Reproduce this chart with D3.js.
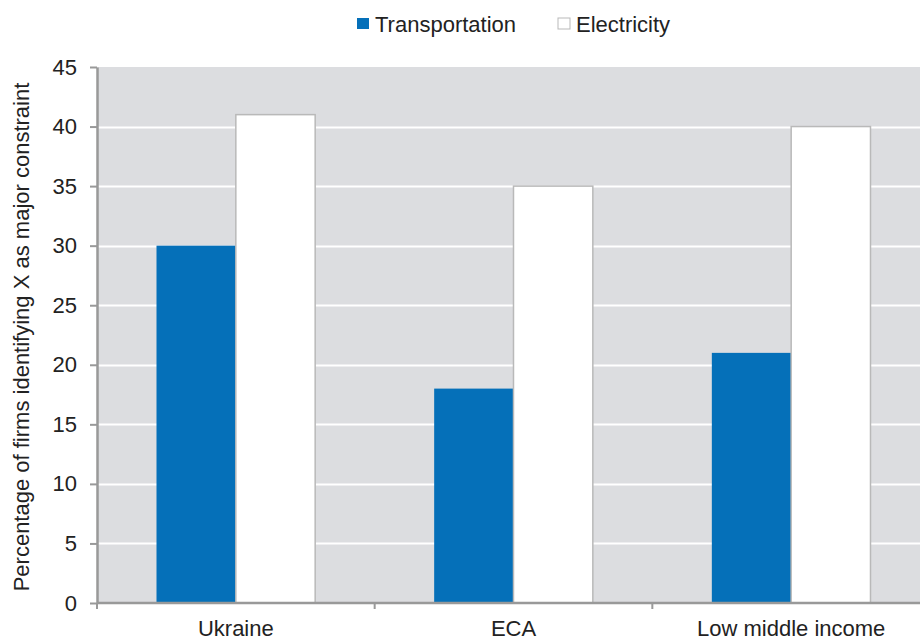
<!DOCTYPE html>
<html>
<head>
<meta charset="utf-8">
<script src="https://cdn.jsdelivr.net/npm/d3@7"></script>
<style>
  html, body { margin: 0; padding: 0; background: #fff; }
  svg { display: block; font-family: "Liberation Sans", Arial, sans-serif; }
</style>
</head>
<body>
<svg id="chart" width="920" height="640"></svg>
<script>
// Share of firms naming each infrastructure area as a major constraint
const categories = ["Ukraine", "ECA", "Low middle income"];
const seriesNames = ["Transportation", "Electricity"];
const transportation = [30, 18, 21];
const electricity = [41, 35, 40];
const yTicks = [0, 5, 10, 15, 20, 25, 30, 35, 40, 45];
const yTitle = "Percentage of firms identifying X as major constraint";

const colors = { Transportation: "#0570b9", Electricity: "#ffffff" };

const svg = d3.select("#chart");
const margin = { left: 97, top: 67, right: -10, bottom: 37 };
const W = 920, H = 640;
const x0 = margin.left, x1 = W - margin.right;
const yTop = margin.top, yBot = H - margin.bottom;

const x = d3.scaleBand().domain(categories).range([x0, x1]).paddingInner(0).paddingOuter(0);
const xs = d3.scaleBand().domain(seriesNames).range([0, x.bandwidth()]).paddingInner(0).paddingOuter(0.75);
const y = d3.scaleLinear().domain([0, 45]).range([yBot, yTop]);

// plot background
svg.append("rect").attr("x", x0).attr("y", yTop).attr("width", x1 - x0).attr("height", yBot - yTop).attr("fill", "#dcdde0");

// gridlines
svg.append("g").selectAll("line").data(yTicks.filter(d => d > 0 && d < 45)).join("line")
  .attr("x1", x0).attr("x2", x1)
  .attr("y1", d => Math.round(y(d)) + 0.5).attr("y2", d => Math.round(y(d)) + 0.5)
  .attr("stroke", "#ffffff").attr("stroke-width", 2);

// bars
const rows = categories.map((c, i) => ({ cat: c, values: [
  { key: "Transportation", v: transportation[i] },
  { key: "Electricity", v: electricity[i] }
]}));

const g = svg.append("g").selectAll("g").data(rows).join("g")
  .attr("transform", d => `translate(${x(d.cat)},0)`);

g.selectAll("rect").data(d => d.values).join("rect")
  .attr("x", d => xs(d.key))
  .attr("y", d => y(d.v))
  .attr("width", xs.bandwidth())
  .attr("height", d => y(0) - y(d.v))
  .attr("fill", d => colors[d.key])
  .attr("stroke", d => d.key === "Electricity" ? "#b9b9b9" : "none")
  .attr("stroke-width", 1.5);

// y axis
const yAxis = d3.axisLeft(y).tickValues(yTicks).tickSize(7).tickSizeOuter(0).tickPadding(13);
const ya = svg.append("g").attr("transform", `translate(${x0},0)`).call(yAxis);
ya.select(".domain").attr("stroke", "#999").attr("stroke-width", 2.5);
ya.selectAll(".tick line").attr("stroke", "#999").attr("stroke-width", 2);
ya.selectAll(".tick text").attr("font-size", 22).attr("fill", "#222").attr("font-family", "Liberation Sans, Arial, sans-serif");

// x axis
const xa = svg.append("g").attr("transform", `translate(0,${yBot})`);
xa.append("line").attr("x1", x0).attr("x2", x1).attr("y1", 0).attr("y2", 0).attr("stroke", "#999").attr("stroke-width", 2.5);
xa.selectAll("line.tk").data(categories.map(c => x(c)).concat([x1])).join("line").attr("class", "tk")
  .attr("x1", d => d).attr("x2", d => d).attr("y1", 0).attr("y2", 6)
  .attr("stroke", "#999").attr("stroke-width", 2);
xa.selectAll("text").data(categories).join("text")
  .attr("x", d => x(d) + x.bandwidth() / 2).attr("y", 33)
  .attr("text-anchor", "middle").attr("font-size", 22).attr("fill", "#222")
  .text(d => d);

// y axis title
svg.append("text")
  .attr("transform", `translate(29,337) rotate(-90)`)
  .attr("text-anchor", "middle").attr("font-size", 22).attr("fill", "#222")
  .text(yTitle);

// legend
const legendX = [357, 558];
const lg = svg.append("g").selectAll("g").data(seriesNames).join("g")
  .attr("transform", (d, i) => `translate(${legendX[i]},18)`);
lg.append("rect").attr("width", 12).attr("height", 11)
  .attr("fill", d => colors[d])
  .attr("stroke", d => d === "Electricity" ? "#b9b9b9" : "none");
lg.append("text").attr("x", 18).attr("y", 14).attr("font-size", 22).attr("fill", "#222").text(d => d);
</script>
</body>
</html>
